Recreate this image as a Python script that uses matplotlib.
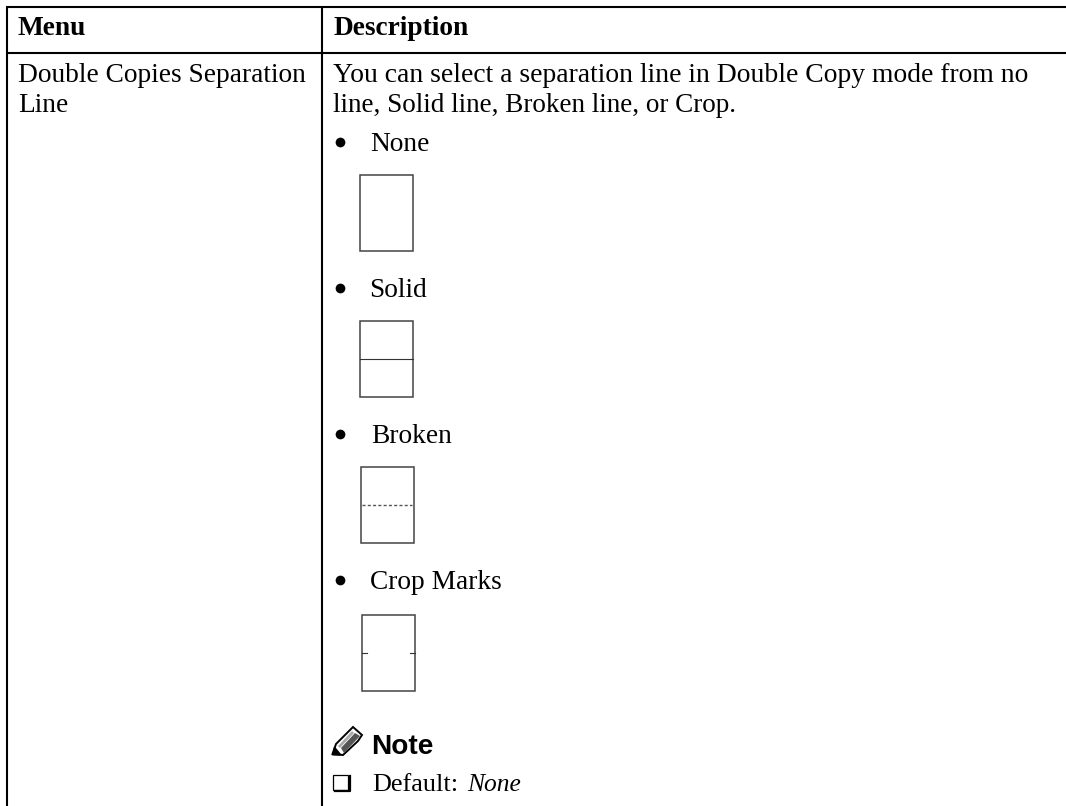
#!/usr/bin/env python3
import matplotlib
matplotlib.use("Agg")
import matplotlib.pyplot as plt
from matplotlib.patches import Rectangle, Polygon

# table text
headers = ["Menu", "Description"]
menu_lines = ["Double Copies Separation", "Line"]
desc_lines = ["You can select a separation line in Double Copy mode from no",
              "line, Solid line, Broken line, or Crop."]
options = ["None", "Solid", "Broken", "Crop Marks"]
note_title = "Note"
default_label = "Default:"
default_value = "None"

W = 1066
H = 806
SERIF = "Liberation Serif"
FS = 19.7

fig = plt.figure(figsize=(W/100, H/100), dpi=100)
ax = fig.add_axes([0, 0, 1, 1])
ax.set_xlim(0, W)
ax.set_ylim(H, 0)
ax.axis("off")

# table rules, no rule at the bottom or right
for y in [7, 53]:
    ax.plot([6, W], [y, y], color="black", lw=1.5, solid_capstyle="butt")
for x in [7, 322]:
    ax.plot([x, x], [7, H], color="black", lw=1.5, solid_capstyle="butt")

ax.text(18, 35, headers[0], fontsize=FS, family=SERIF, weight="bold", va="baseline")
ax.text(334, 35, headers[1], fontsize=FS, family=SERIF, weight="bold", va="baseline")

ax.text(18, 82, menu_lines[0], fontsize=FS, family=SERIF, va="baseline")
ax.text(18, 112, menu_lines[1], fontsize=FS, family=SERIF, va="baseline")
ax.text(333, 82, desc_lines[0], fontsize=19.92, family=SERIF, va="baseline")
ax.text(333, 112, desc_lines[1], fontsize=19.5, family=SERIF, va="baseline")

# bullets with the little page sketches
text_y = [151, 297, 443, 589]
text_x = [370, 369, 371, 370]
box_x = [360, 360, 361, 362]
box_top = [175, 321, 467, 615]
for i, name in enumerate(options):
    ax.plot([339.5], [text_y[i]-9], "o", color="black", ms=7, mew=0)
    ax.text(text_x[i], text_y[i], name, fontsize=FS, family=SERIF, va="baseline")
    bx = box_x[i]
    by = box_top[i]
    ax.add_patch(Rectangle((bx, by), 53, 76, fill=False, ec="#444444", lw=1.1))
    mid = by + 38
    if name == "Solid":
        ax.plot([bx, bx+53], [mid, mid], color="#333333", lw=0.8)
    if name == "Broken":
        ax.plot([bx+1, bx+51], [mid, mid], color="#555555", lw=1.0, ls=(0, (2.2, 1.6)))
    if name == "Crop Marks":
        ax.plot([bx, bx+5], [mid, mid], color="#333333", lw=0.8)
        ax.plot([bx+48, bx+53], [mid, mid], color="#333333", lw=0.8)

# pencil icon next to Note
ax.add_patch(Polygon([[332.5, 754], [336, 744], [353, 727], [362, 735], [358, 741], [343, 755]],
                     closed=True, fc="white", ec="black", lw=1.4))
ax.add_patch(Polygon([[341, 748], [355, 733], [360, 736], [344, 753]], closed=True, fc="#555555", ec="none"))
ax.add_patch(Polygon([[338, 746], [352, 731], [354, 733], [340, 748]], closed=True, fc="#aaaaaa", ec="none"))
ax.add_patch(Polygon([[332.5, 755], [334.5, 747], [341, 755]], closed=True, fc="black", ec="black", lw=0.8))
ax.text(371, 754.5, note_title, fontsize=20.2, family="Liberation Sans", weight="bold", va="baseline")

# checkbox and default
ax.add_patch(Rectangle((333, 775), 15, 14.5, fill=False, ec="black", lw=0.9))
ax.plot([335, 349.5, 349.5], [790.5, 790.5, 776], color="black", lw=1.6)
ax.text(372, 791, default_label, fontsize=18.9, family=SERIF, va="baseline")
ax.text(467, 791, default_value, fontsize=18.4, family=SERIF, style="italic", va="baseline")

fig.savefig("out.png", dpi=100)
